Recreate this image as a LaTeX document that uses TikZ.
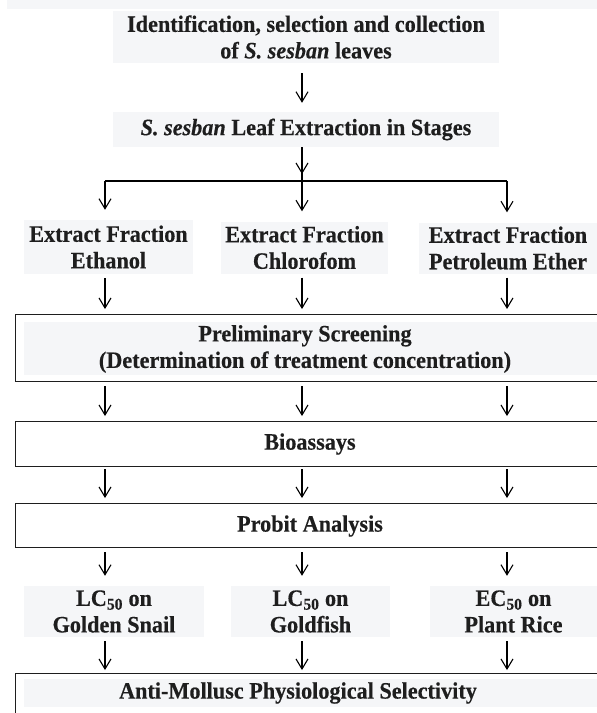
\documentclass[tikz,border=0pt]{standalone}
\usepackage{fontspec}
\setmainfont{Liberation Serif}
\newfontfamily\flowfont{Liberation Serif}[FakeStretch=0.945, BoldFeatures={FakeBold=0.35}, BoldItalicFeatures={FakeBold=0.35}]
\usepackage{xcolor}
\usetikzlibrary{positioning, arrows.meta, calc}
\definecolor{boxgray}{HTML}{F5F6F8}
\definecolor{inkgray}{HTML}{1E1E1E}

\begin{document}
\begin{tikzpicture}[
    x=1pt, y=-1pt,
    font={\flowfont\fontsize{23.5}{26.5}\selectfont\bfseries},
    txt/.style={
        text=inkgray,
        align=center,
        inner sep=0pt
    },
    fillbox/.style={txt, fill=boxgray},
    frame/.style={
        draw=inkgray,
        line width=1.2pt,
        anchor=north west,
        inner sep=0pt,
        minimum width=640pt
    },
    bar/.style={line width=1.1pt},
    flow/.style={-{Straight Barb[length=10pt, width=12pt]}, line width=1.1pt, shorten <=4pt, shorten >=5pt}
]

\path[use as bounding box, fill=white] (0,0) rectangle (597,713);

\def\xa{105}
\def\xb{302}
\def\xc{507}

% Top strip
\fill[boxgray] (7,0) rectangle (597,9);

% Collection and extraction
\node[fillbox, minimum width=386pt, minimum height=52pt] (ident) at (306,37) {Identification, selection and collection\\of \textit{S. sesban} leaves};
\node[fillbox, minimum width=386pt, minimum height=35pt] (extr) at (306,129.5) {\textit{S. sesban} Leaf Extraction in Stages};

% Branch bar
\coordinate (col1) at (\xa,181);
\coordinate (col2) at (\xb,181);
\coordinate (col3) at (\xc,181);
\draw[bar] (col1) -- (col3);

\draw[flow, shorten <=10pt, shorten >=9pt] (ident.south -| col2) -- (extr.north -| col2);
\draw[bar] (extr.south -| col2) -- (col2);
\draw[flow, shorten <=0pt, shorten >=7pt] (extr.south -| col2) -- (col2);

% Fractions
\node[fillbox, minimum width=169pt, minimum height=54pt] (fr1) at (108.5,247) {Extract Fraction\\Ethanol};
\node[fillbox, minimum width=167pt, minimum height=52pt] (fr2) at (304.5,247.5) {Extract Fraction\\Chlorofom};
\node[fillbox, minimum width=178pt, minimum height=51pt] (fr3) at (508,248) {Extract Fraction\\Petroleum Ether};

% Screening, bioassays, probit
\node[frame, minimum height=67pt] (prelim) at (15,314) {};
\fill[boxgray] ($(prelim.north west)+(9,8)$) rectangle ($(prelim.south east)+(0,-7)$);
\node[txt] (prelimtxt) at (305,349) {Preliminary Screening\\(Determination of treatment concentration)};

\node[frame, minimum height=45pt] (bio) at (15,421) {};
\node[txt] (biotxt) at (310,444) {Bioassays};

\node[frame, minimum height=44pt] (probit) at (15,503) {};
\node[txt] (probittxt) at (310,526) {Probit Analysis};

% Toxicity results
\node[fillbox, minimum width=180pt, minimum height=51pt] (lc1) at (114,611.5) {LC\textsubscript{50} on\\Golden Snail};
\node[fillbox, minimum width=159pt, minimum height=51pt] (lc2) at (310.5,611.5) {LC\textsubscript{50} on\\Goldfish};
\node[fillbox, minimum width=167pt, minimum height=51pt] (lc3) at (513.5,611.5) {EC\textsubscript{50} on\\Plant Rice};

\node[frame, minimum height=60pt] (final) at (15,673) {};
\fill[boxgray] ($(final.north west)+(9,6)$) rectangle ($(final.north east)+(0,34)$);
\node[txt] (finaltxt) at (298,693) {Anti-Mollusc Physiological Selectivity};

% Column arrows
\foreach \i in {1,2,3} {
    \draw[flow, shorten <=0pt, shorten >=10pt] (col\i) -- (fr\i.north -| col\i);
    \draw[flow] (fr\i.south -| col\i) -- (prelim.north -| col\i);
    \draw[flow] (prelim.south -| col\i) -- (bio.north -| col\i);
    \draw[flow, shorten <=2pt] (bio.south -| col\i) -- (probit.north -| col\i);
    \draw[flow, shorten >=10pt] (probit.south -| col\i) -- (lc\i.north -| col\i);
    \draw[flow, shorten >=3pt] (lc\i.south -| col\i) -- (final.north -| col\i);
}

\end{tikzpicture}
\end{document}
